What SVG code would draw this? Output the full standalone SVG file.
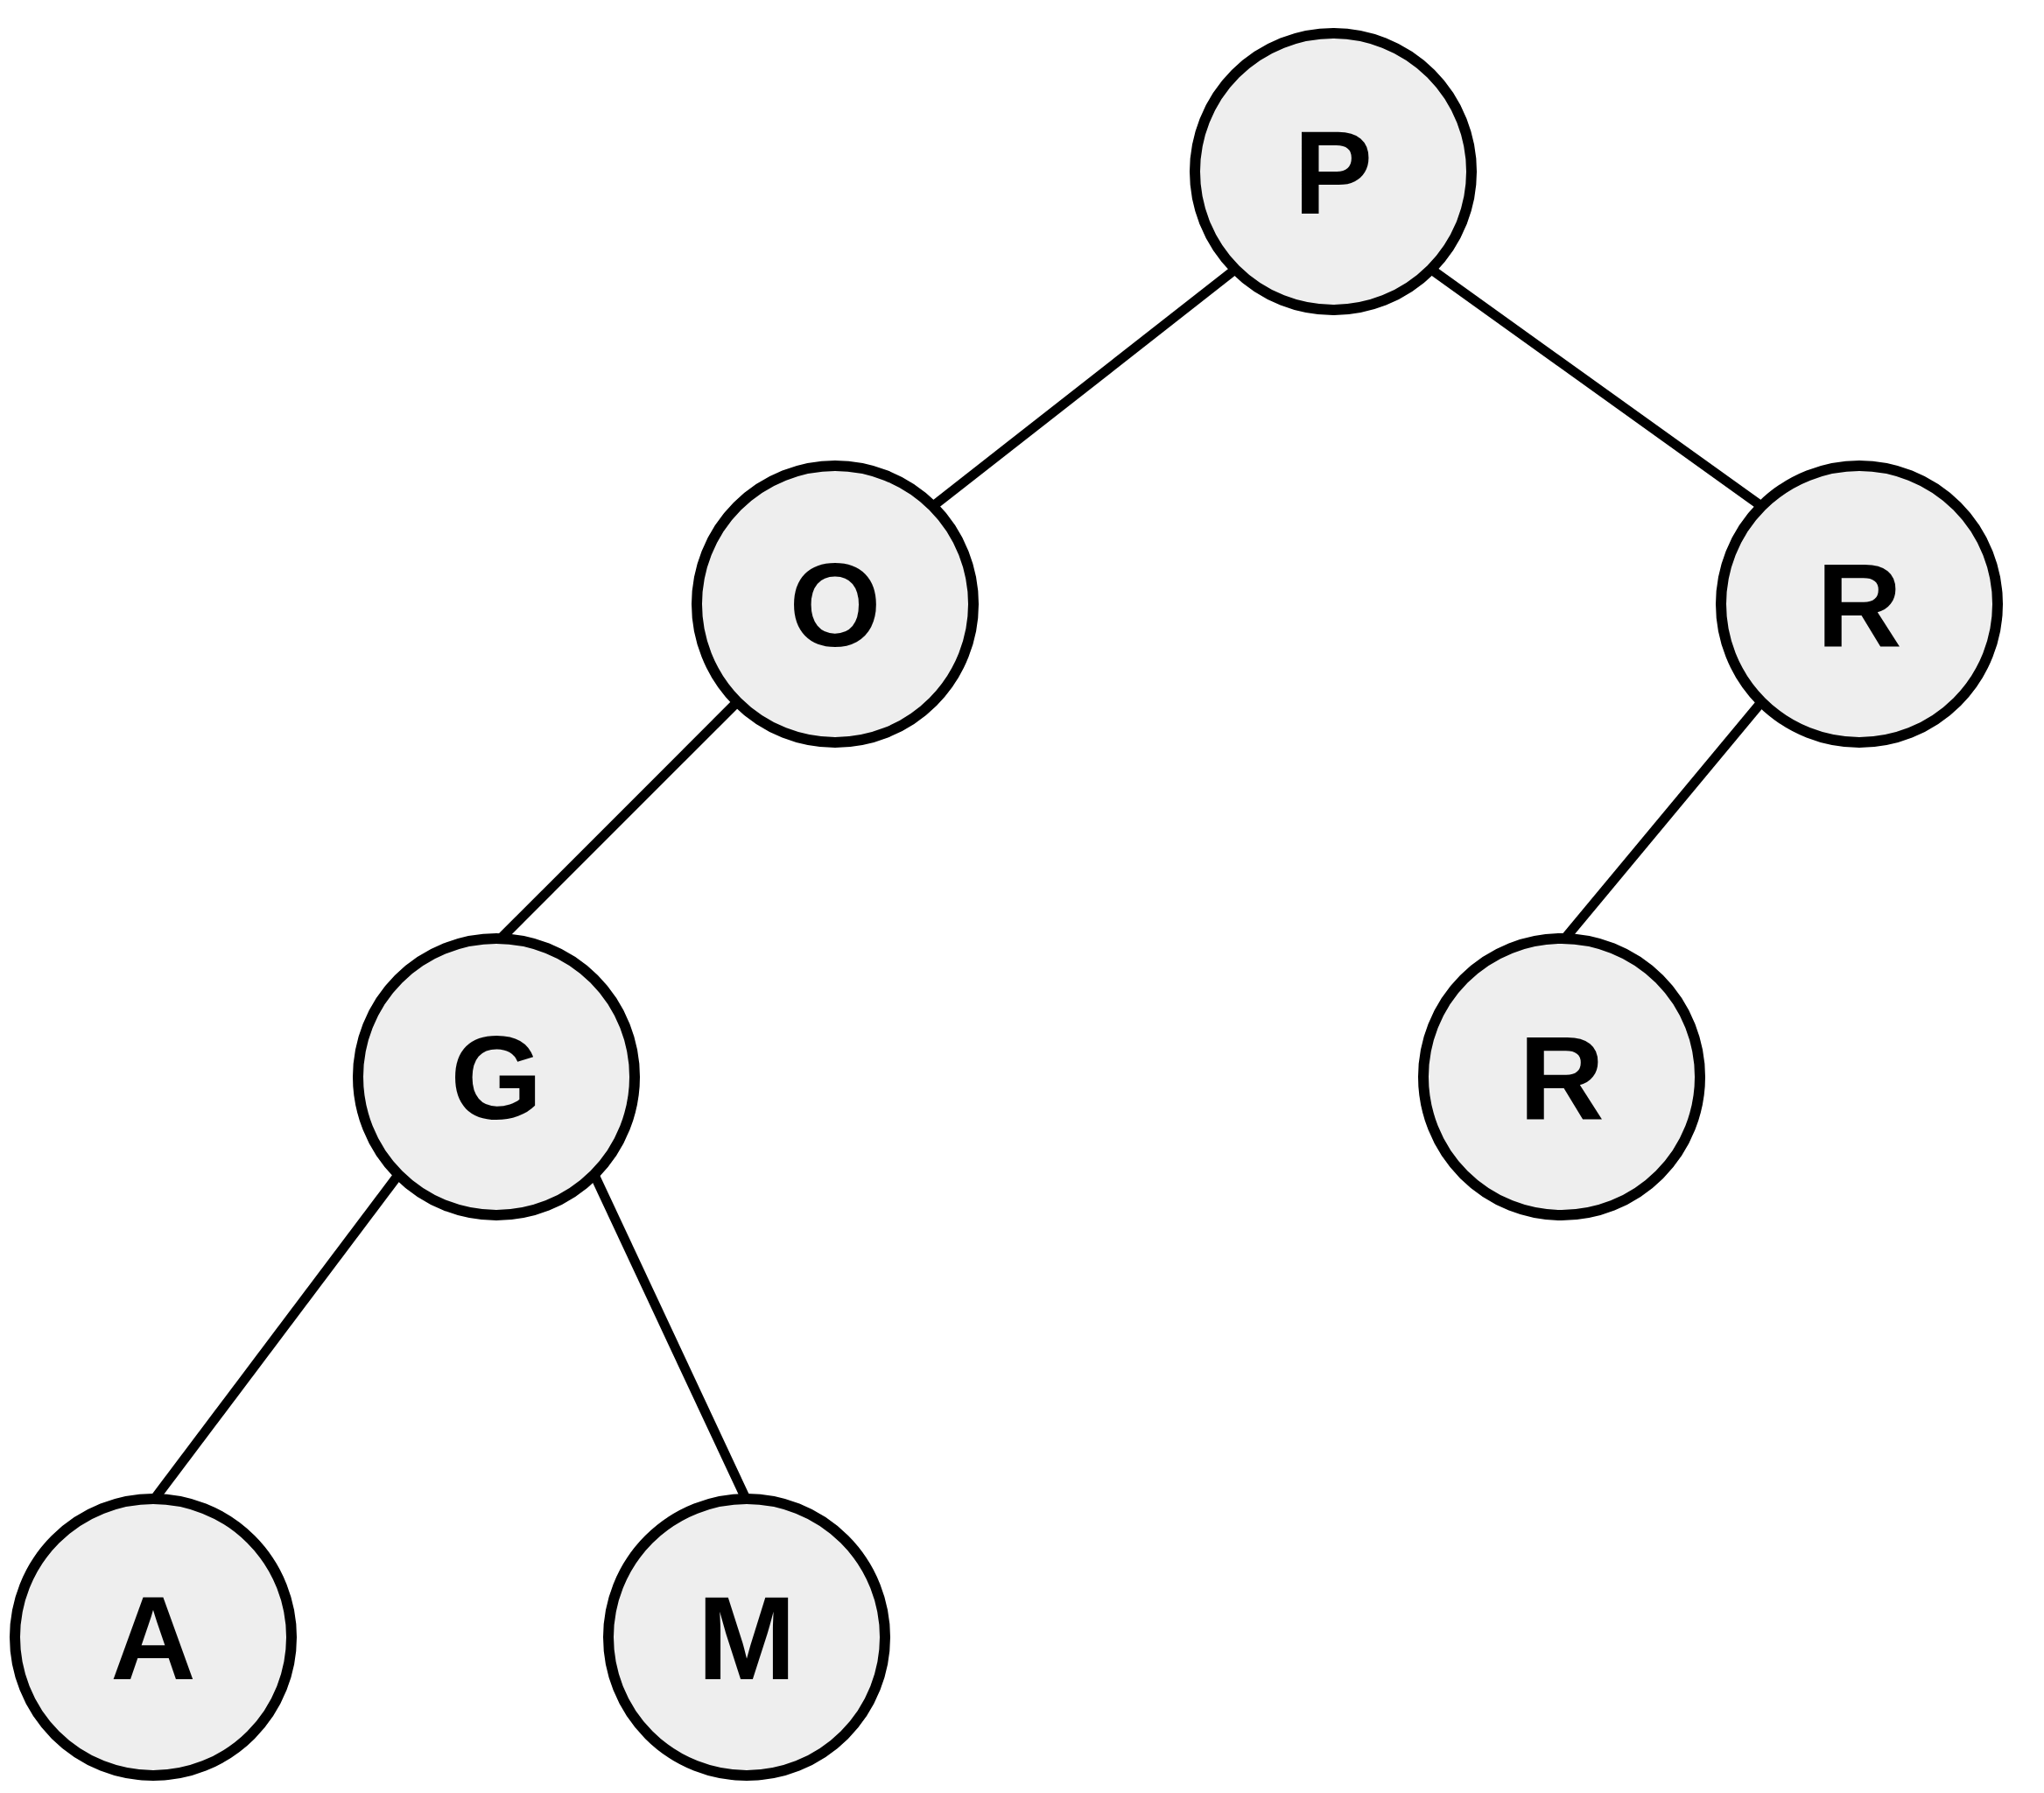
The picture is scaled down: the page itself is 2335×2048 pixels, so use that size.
<svg xmlns="http://www.w3.org/2000/svg" width="2335" height="2048" viewBox="0 0 2335 2048">
<style>
.node circle { fill: #eeeeee; stroke: #000000; stroke-width: 12; }
.node text { font-family: "Liberation Sans", Arial, sans-serif; font-weight: bold; font-size: 135px; text-anchor: middle; fill: #000000; }
.edges line { stroke: #000000; stroke-width: 11; stroke-linecap: butt; }
</style>
<rect width="2335" height="2048" fill="#ffffff"/>
<g id="connectors" class="edges">
<line x1="1412" y1="307" x2="1066" y2="578"/>
<line x1="1634" y1="307" x2="2012" y2="578"/>
<line x1="843" y1="801" x2="570" y2="1074"/>
<line x1="2013" y1="801" x2="1786" y2="1074"/>
<line x1="455" y1="1342" x2="175" y2="1714"/>
<line x1="679" y1="1342" x2="853" y2="1714"/>
</g>
<g id="node-P" class="node"><circle cx="1523" cy="196" r="158"/><text x="1523" y="244">P</text></g>
<g id="node-O" class="node"><circle cx="954" cy="690" r="158"/><text x="954" y="738">O</text></g>
<g id="node-R1" class="node"><circle cx="2124" cy="690" r="158"/><text x="2124" y="738">R</text></g>
<g id="node-G" class="node"><circle cx="567" cy="1230" r="158"/><text x="567" y="1278">G</text></g>
<g id="node-R2" class="node"><circle cx="1784" cy="1230" r="158"/><text x="1784" y="1278">R</text></g>
<g id="node-A" class="node"><circle cx="175" cy="1870" r="158"/><text x="175" y="1918">A</text></g>
<g id="node-M" class="node"><circle cx="853" cy="1870" r="158"/><text x="853" y="1918">M</text></g>
</svg>
